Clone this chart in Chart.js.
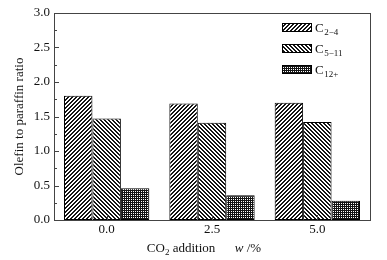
<!DOCTYPE html>
<html>
<head>
<meta charset="utf-8">
<script src="https://cdn.jsdelivr.net/npm/chart.js@4/dist/chart.umd.min.js"></script>
<style>
html,body{margin:0;padding:0;background:#fff;}
#wrap{width:387px;height:260px;position:relative;}
</style>
</head>
<body>
<div id="wrap"><canvas id="c" width="387" height="260"></canvas></div>
<script>
// ---- data ----
const categories = ['0.0', '2.5', '5.0'];
const c2to4 = [1.80, 1.69, 1.70];
const c5to11 = [1.47, 1.41, 1.42];
const c12plus = [0.46, 0.36, 0.28];
const seriesBase = ['C', 'C', 'C'];
const seriesSub = ['2\u22124', '5\u221211', '12+'];
const yTickValues = [0, 0.5, 1.0, 1.5, 2.0, 2.5, 3.0];
const yTitle = 'Olefin to paraffin ratio';
const xTitleParts = ['CO', '2', ' addition', 'w', ' /%'];

const FONT = '"Liberation Serif", "Times New Roman", serif';
const AXIS = '#444';

function makePattern(kind) {
  const n = 4;
  const cv = document.createElement('canvas');
  cv.width = n; cv.height = n;
  const g = cv.getContext('2d');
  const img = g.createImageData(n, n);
  for (let y = 0; y < n; y++) {
    for (let x = 0; x < n; x++) {
      let dark;
      if (kind === 'fwd') dark = ((x + y) % 4) < 2;
      else if (kind === 'back') dark = (((x - y) % 4) + 4) % 4 < 2;
      else dark = !((x % 2 === 1) && (y % 2 === 1));
      const v = dark ? 20 : 255;
      const i = (y * n + x) * 4;
      img.data[i] = v; img.data[i + 1] = v; img.data[i + 2] = v; img.data[i + 3] = 255;
    }
  }
  g.putImageData(img, 0, 0);
  return g.createPattern(cv, 'repeat');
}
const ctx0 = document.getElementById('c').getContext('2d');
const patterns = [makePattern('fwd'), makePattern('back'), makePattern('cross')];
const seriesValues = [c2to4, c5to11, c12plus];

const decorPlugin = {
  id: 'decor',
  afterDraw(chart) {
    const ctx = chart.ctx;
    const a = chart.chartArea;
    const ys = chart.scales.y, xs = chart.scales.x;
    ctx.save();
    ctx.strokeStyle = AXIS;
    ctx.lineWidth = 1;
    // frame
    ctx.strokeRect(Math.round(a.left) + 0.5, Math.round(a.top) + 0.5,
      Math.round(a.right - a.left), Math.round(a.bottom - a.top));
    // y ticks inward (major + minor)
    ctx.beginPath();
    for (let v = 0; v <= 3.0001; v += 0.25) {
      const py = Math.round(ys.getPixelForValue(v)) + 0.5;
      const major = Math.abs(v * 2 - Math.round(v * 2)) < 1e-6;
      const len = major ? 5 : 3;
      ctx.moveTo(Math.round(a.left), py); ctx.lineTo(Math.round(a.left) + len, py);
    }
    // x ticks inward
    for (let i = 0; i < categories.length; i++) {
      const px = Math.round(xs.getPixelForValue(i)) + 0.5;
      ctx.moveTo(px, Math.round(a.bottom)); ctx.lineTo(px, Math.round(a.bottom) - 5);
    }
    ctx.stroke();

    // y title
    ctx.fillStyle = '#111';
    ctx.font = '13px ' + FONT;
    ctx.textAlign = 'center';
    ctx.textBaseline = 'middle';
    ctx.save();
    ctx.translate(20, (a.top + a.bottom) / 2);
    ctx.rotate(-Math.PI / 2);
    ctx.fillText(yTitle, 0, 0);
    ctx.restore();

    // x title with subscript and italic
    const big = '13px ' + FONT, small = '9px ' + FONT, ital = 'italic 13px ' + FONT;
    ctx.textAlign = 'left';
    ctx.textBaseline = 'alphabetic';
    const parts = [
      [xTitleParts[0], big, 0],
      [xTitleParts[1], small, 3],
      [xTitleParts[2], big, 0],
      ['      ', big, 0],
      [xTitleParts[3], ital, 0],
      [xTitleParts[4], big, 0]
    ];
    let total = 0;
    parts.forEach(p => { ctx.font = p[1]; total += ctx.measureText(p[0]).width; });
    let x = 204 - total / 2;
    const baseY = 252;
    parts.forEach(p => { ctx.font = p[1]; ctx.fillText(p[0], x, baseY + p[2]); x += ctx.measureText(p[0]).width; });

    // legend
    const lx = 282, boxW = 29, boxH = 8;
    const rowY = [27, 48, 69];
    for (let i = 0; i < 3; i++) {
      const cy = rowY[i];
      ctx.fillStyle = patterns[i];
      ctx.fillRect(lx, cy - boxH / 2, boxW, boxH);
      ctx.strokeStyle = '#000';
      ctx.strokeRect(lx + 0.5, Math.round(cy - boxH / 2) + 0.5, boxW, boxH);
      ctx.fillStyle = '#111';
      ctx.font = big;
      ctx.fillText(seriesBase[i], 315, cy + 5);
      const w = ctx.measureText(seriesBase[i]).width;
      ctx.font = small;
      ctx.fillText(seriesSub[i], 315 + w + 0.5, cy + 8);
    }
    ctx.restore();
  }
};

new Chart(ctx0, {
  type: 'bar',
  data: {
    labels: categories,
    datasets: seriesValues.map((vals, i) => ({
      label: seriesBase[i] + seriesSub[i],
      data: vals,
      backgroundColor: patterns[i],
      borderColor: '#000',
      borderWidth: 1,
      borderSkipped: false,
      categoryPercentage: 0.81,
      barPercentage: 1.0
    }))
  },
  options: {
    responsive: false,
    animation: false,
    devicePixelRatio: 1,
    layout: { padding: { top: 13, right: 17, left: 0, bottom: 0 } },
    plugins: { legend: { display: false }, tooltip: { enabled: false } },
    scales: {
      x: {
        grid: { display: false, drawTicks: false },
        border: { display: false },
        ticks: { color: '#111', font: { family: FONT, size: 13 }, padding: 2 },
        afterFit(s) { s.height = 40; }
      },
      y: {
        min: 0, max: 3,
        afterBuildTicks(s) { s.ticks = yTickValues.map(v => ({ value: v })); },
        grid: { display: false, drawTicks: false },
        border: { display: false },
        ticks: { color: '#111', font: { family: FONT, size: 13 }, padding: 4,
          callback: v => Number(v).toFixed(1) },
        afterFit(s) { s.width = 54; }
      }
    }
  },
  plugins: [decorPlugin]
});
</script>
</body>
</html>
